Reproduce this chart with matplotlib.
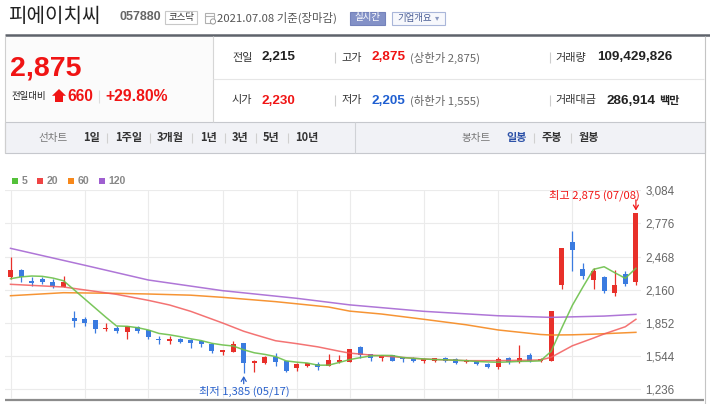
import matplotlib
matplotlib.use('Agg')
import matplotlib.pyplot as plt
from matplotlib.patches import Rectangle, Polygon, Circle

KR = ['Noto Sans CJK KR', 'DejaVu Sans']
NUM = ['Liberation Sans', 'DejaVu Sans']
plt.rcParams['font.family'] = KR

# daily candles, 2021-04-14 .. 2021-07-08
dates = ['04/14', '04/15', '04/16', '04/19', '04/20', '04/21', '04/22', '04/23', '04/26', '04/27',
         '04/28', '04/29', '04/30', '05/03', '05/04', '05/06', '05/07', '05/10', '05/11', '05/12',
         '05/13', '05/14', '05/17', '05/18', '05/20', '05/21', '05/24', '05/25', '05/26', '05/27',
         '05/28', '05/31', '06/01', '06/02', '06/03', '06/04', '06/07', '06/08', '06/09', '06/10',
         '06/11', '06/14', '06/15', '06/16', '06/17', '06/18', '06/21', '06/22', '06/23', '06/24',
         '06/25', '06/28', '06/29', '06/30', '07/01', '07/02', '07/05', '07/06', '07/07', '07/08']
opens = [2282, 2344, 2242, 2260, 2235, 2189, 1898, 1889, 1880, 1793,
         1808, 1768, 1815, 1787, 1703, 1687, 1700, 1694, 1685, 1654,
         1580, 1585, 1669, 1477, 1483, 1533, 1499, 1431, 1455, 1468,
         1455, 1492, 1492, 1629, 1564, 1529, 1554, 1533, 1529, 1499,
         1502, 1529, 1514, 1492, 1499, 1471, 1446, 1524, 1487, 1554,
         1502, 1499, 2204, 2607, 2353, 2251, 2276, 2133, 2307, 2230]
highs = [2467, 2353, 2276, 2276, 2257, 2291, 1963, 1907, 1880, 1849,
         1824, 1824, 1824, 1787, 1731, 1731, 1710, 1700, 1694, 1663,
         1601, 1685, 1669, 1508, 1548, 1570, 1499, 1483, 1483, 1487,
         1561, 1554, 1610, 1638, 1564, 1554, 1554, 1533, 1539, 1529,
         1529, 1539, 1529, 1514, 1502, 1483, 1533, 1533, 1647, 1570,
         1529, 1960, 2545, 2706, 2412, 2360, 2288, 2344, 2335, 2875]
lows = [2260, 2235, 2198, 2211, 2179, 2189, 1817, 1824, 1762, 1777,
        1762, 1700, 1756, 1700, 1654, 1654, 1669, 1622, 1632, 1570,
        1554, 1585, 1385, 1399, 1468, 1455, 1399, 1409, 1446, 1415,
        1455, 1477, 1492, 1529, 1502, 1502, 1499, 1492, 1492, 1483,
        1492, 1492, 1471, 1477, 1461, 1437, 1424, 1468, 1477, 1492,
        1492, 1499, 2167, 2335, 2257, 2165, 2127, 2102, 2198, 2205]
closes = [2344, 2276, 2223, 2232, 2198, 2232, 1870, 1852, 1796, 1802,
          1777, 1824, 1777, 1719, 1694, 1700, 1675, 1663, 1657, 1592,
          1601, 1654, 1477, 1501, 1539, 1492, 1409, 1468, 1477, 1446,
          1508, 1508, 1610, 1554, 1529, 1545, 1502, 1517, 1499, 1517,
          1524, 1499, 1483, 1508, 1471, 1446, 1514, 1487, 1524, 1502,
          1514, 1960, 2545, 2530, 2288, 2337, 2152, 2204, 2215, 2875]

# moving averages
ma5 = [2263, 2280, 2288, 2285, 2269, 2244, 2160, 2075, 1990, 1905,
       1824, 1821, 1808, 1787, 1755, 1742, 1725, 1705, 1688, 1663,
       1648, 1638, 1603, 1575, 1560, 1540, 1500, 1488, 1480, 1460,
       1460, 1485, 1512, 1530, 1546, 1551, 1550, 1531, 1524, 1518,
       1512, 1510, 1506, 1502, 1494, 1490, 1487, 1490, 1495, 1496,
       1500, 1588, 1805, 2015, 2186, 2350, 2374, 2319, 2267, 2360]
ma20_idx = [0, 5, 10, 13, 15, 17, 20, 22, 23, 25, 27, 29, 31, 32, 34, 36, 39, 43, 46, 50, 51, 53, 55, 56, 58, 59]
ma20_val = [2211, 2186, 2118, 2062, 2019, 1960, 1852, 1775, 1745, 1687, 1660, 1630, 1590, 1572,
            1554, 1539, 1517, 1502, 1502, 1508, 1533, 1640, 1712, 1750, 1817, 1886]
ma60_idx = [0, 5, 10, 13, 17, 20, 25, 30, 32, 35, 39, 43, 46, 50, 51, 53, 55, 59]
ma60_val = [2105, 2133, 2127, 2121, 2110, 2090, 2050, 2000, 1962, 1935, 1886, 1835, 1787,
            1745, 1740, 1742, 1748, 1765]
ma120_idx = [0, 7, 13, 20, 27, 32, 39, 46, 51, 56, 59]
ma120_val = [2545, 2388, 2251, 2152, 2081, 2020, 1960, 1919, 1904, 1916, 1932]

yticks = [1236, 1544, 1852, 2160, 2468, 2776, 3084]
grid_idx = [0, 7, 13, 20, 27, 32, 39, 46, 53]

RED = '#e8302a'
BLUE = '#3a7be0'

W, H = 710, 404
fig = plt.figure(figsize=(7.1, 4.04), dpi=100)
bg = fig.add_axes([0, 0, 1, 1])
bg.set_xlim(0, W)
bg.set_ylim(H, 0)
bg.axis('off')


def box(x0, y0, w, h, **kw):
    bg.add_patch(Rectangle((x0, y0), w, h, **kw))


def hline(x0, x1, y, c, lw):
    bg.plot([x0, x1], [y, y], color=c, lw=lw, solid_capstyle='butt')


def vline(x, y0, y1, c, lw):
    bg.plot([x, x], [y0, y1], color=c, lw=lw, solid_capstyle='butt')


def txt(x, y, s, size, color='#333', weight='normal', family=KR, ha='left'):
    bg.text(x, y, s, fontsize=size, color=color, fontweight=weight, family=family,
            ha=ha, va='center')


# ---- top title row
txt(8, 16, '피에이치씨', 14.5, '#222')
txt(119, 17.5, '057880', 9, '#666', 'bold', NUM)
box(165, 10.5, 32, 13.5, fc='white', ec='#c8c8c8', lw=0.8)
txt(181, 17.3, '코스닥', 6.8, '#333', ha='center')
box(205, 12.5, 9, 10, fc='white', ec='#b0b0b0', lw=0.8)
hline(205, 214, 15.5, '#b0b0b0', 0.8)
bg.add_patch(Circle((213, 21.5), 2.6, fc='white', ec='#999', lw=0.7))
txt(217, 17.5, '2021.07.08 기준(장마감)', 8.2, '#555')
box(350, 11.5, 35, 13, fc='#8391c7', ec='#7482bb', lw=0.8)
txt(367.5, 17.8, '실시간', 6.8, 'white', ha='center')
box(392, 11.5, 53, 13.5, fc='#f7f8fc', ec='#a9b6d9', lw=0.8)
txt(397, 18, '기업개요', 6.8, '#4b5e95')
txt(434.5, 18, '▾', 6, '#8a98c0')

hline(5, 710, 35, '#5e636b', 1.8)

# ---- price panel
box(5, 36, 208, 86, fc='#fbfbfb', ec='none')
vline(5.3, 36, 153, '#cfcfcf', 0.8)
vline(213, 36, 122, '#d6d6d6', 0.8)
vline(704.5, 36, 404, '#c4c4c4', 0.8)
hline(213, 704, 79.3, '#e6e6e6', 0.8)

txt(10, 69, '2,875', 20.5, '#f01414', 'bold', NUM)
txt(12, 97, '전일대비', 6.8, '#222')
bg.add_patch(Polygon([(52, 95.8), (59, 89), (66, 95.8), (63, 95.8), (63, 102),
                      (55, 102), (55, 95.8)], closed=True, fc='#f01414', ec='none'))
txt(67.5, 96.5, '660', 11.2, '#f01414', 'bold', NUM)
vline(99, 90, 103, '#dddddd', 0.8)
txt(105.5, 96.5, '+29.80%', 11.3, '#f01414', 'bold', NUM)

y1, y2 = 57.5, 100.5
for y in (y1, y2):
    vline(335.3, y - 5.5, y + 5.5, '#cccccc', 0.8)
    vline(550, y - 5.5, y + 5.5, '#cccccc', 0.8)
txt(232, y1, '전일', 8, '#333')
txt(262, y1, '2,215', 9.7, '#222', 'bold', NUM)
txt(341, y1, '고가', 8, '#333')
txt(372, y1, '2,875', 9.7, '#f01414', 'bold', NUM)
txt(409.5, y1, '(상한가 2,875)', 8.2, '#666')
txt(555.5, y1, '거래량', 8, '#333')
txt(597, y1, '109,429,826', 9.7, '#222', 'bold', NUM)
txt(232, y2, '시가', 8, '#333')
txt(262, y2, '2,230', 9.7, '#f01414', 'bold', NUM)
txt(341, y2, '저가', 8, '#333')
txt(372, y2, '2,205', 9.7, '#1f5fd1', 'bold', NUM)
txt(409.5, y2, '(하한가 1,555)', 8.2, '#666')
txt(555.5, y2, '거래대금', 8, '#333')
txt(606.5, y2, '286,914', 9.7, '#222', 'bold', NUM)
txt(659, y2, '백만', 8, '#222', 'bold')

# ---- tab bar
box(5, 122, 699.5, 31, fc='#f1f2f6', ec='#c6c8cd', lw=0.8)
vline(355, 122, 153, '#d0d2d6', 0.8)
ty = 138
txt(38, ty, '선차트', 7.6, '#777')
for x, s in [(83, '1일'), (115, '1주일'), (157, '3개월'), (200, '1년'),
             (232, '3년'), (263, '5년'), (295, '10년')]:
    txt(x, ty, s, 8, '#333', 'bold')
for x in (107, 150, 192, 225, 256, 288, 534, 571):
    vline(x, ty - 5, ty + 5, '#d0d0d0', 0.8)
txt(461, ty, '봉차트', 7.6, '#777')
txt(506, ty, '일봉', 8, '#2d52a8', 'bold')
txt(542, ty, '주봉', 8, '#333', 'bold')
txt(579, ty, '월봉', 8, '#333', 'bold')

# ---- legend
for x, c, s in [(12, '#54c13a', '5'), (37, '#ef4444', '20'),
                (68, '#f7881b', '60'), (99, '#9f5fd0', '120')]:
    box(x, 177.7, 6, 6, fc=c, ec='none')
    txt(x + 9.5, 180.9, s, 7.6, '#888', 'bold', NUM)

hline(5, 704, 399.5, '#8c8c8c', 1.6)

# ---- candle chart
ax = fig.add_axes([5 / W, 1 - 399.3 / H, 636 / W, 209 / H])
ax.set_facecolor('none')
n = len(closes)
xs = list(range(n))
cols = [RED if c >= o else BLUE for o, c in zip(opens, closes)]
bottoms = [min(o, c) for o, c in zip(opens, closes)]
heights = [max(abs(c - o), 11) for o, c in zip(opens, closes)]
ax.vlines(xs, lows, highs, colors=cols, lw=0.9, zorder=3)
ax.bar(xs, heights, bottom=bottoms, width=0.48, color=cols, lw=0, zorder=4)

ax.plot(ma120_idx, ma120_val, color='#a667d3', lw=1.1, alpha=0.9, zorder=5)
ax.plot(ma60_idx, ma60_val, color='#f5891f', lw=1.1, alpha=0.9, zorder=5)
ax.plot(ma20_idx, ma20_val, color='#f25b5b', lw=1.1, alpha=0.85, zorder=5)
ax.plot(xs, ma5, color='#6cc04a', lw=1.1, alpha=0.9, zorder=6)

ax.set_xlim(-0.52, 59.48)
ax.set_ylim(1143.1, 3084)
ax.set_xticks(grid_idx)
ax.set_yticks(yticks)
ax.set_yticklabels([f'{v:,}' for v in yticks], family=NUM, fontsize=8.4, color='#666')
ax.yaxis.tick_right()
ax.tick_params(axis='both', length=0, pad=3)
ax.tick_params(axis='x', labelbottom=False)
ax.grid(True, color='#ebebeb', lw=0.8)
ax.set_axisbelow(True)
for sp in ax.spines.values():
    sp.set_visible(False)

hi_i = highs.index(max(highs))
lo_i = lows.index(min(lows))
ax.annotate(f'최고 {highs[hi_i]:,} ({dates[hi_i]})', xy=(hi_i, highs[hi_i]),
            xytext=(3.6, 17.8), textcoords='offset pixels', ha='right', va='center',
            fontsize=8.1, color='#f01414', zorder=7)
ax.annotate('', xy=(hi_i, highs[hi_i]), xytext=(0, 13), textcoords='offset pixels',
            arrowprops=dict(arrowstyle='->,head_length=0.3,head_width=0.18', color='#f01414',
                            lw=0.9, shrinkA=0, shrinkB=1.7, mutation_scale=10), zorder=7)
ax.annotate(f'최저 {lows[lo_i]:,} ({dates[lo_i]})', xy=(lo_i, lows[lo_i]),
            xytext=(0.5, -18.4), textcoords='offset pixels', ha='center', va='center',
            fontsize=8.1, color='#2a62cc', zorder=7, annotation_clip=False)
ax.annotate('', xy=(lo_i, lows[lo_i]), xytext=(0, -10.5), textcoords='offset pixels',
            arrowprops=dict(arrowstyle='->,head_length=0.3,head_width=0.18', color='#2a62cc',
                            lw=0.9, shrinkA=0, shrinkB=2.0, mutation_scale=10), zorder=7)

fig.savefig('out.png', dpi=100)
